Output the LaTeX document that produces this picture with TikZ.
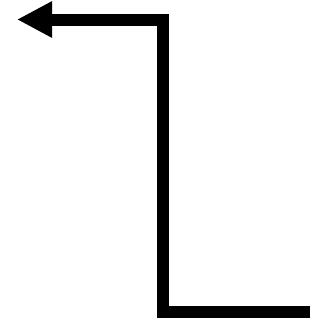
\documentclass[tikz,border=0pt]{standalone}
\usepackage{tikz}
\usetikzlibrary{arrows.meta, positioning, calc}

\begin{document}
\begin{tikzpicture}[x=1pt, y=-1pt,
  conn/.style={line width=12pt, -{Triangle[length=35pt, width=34pt]}}]
  \useasboundingbox (0,0) rectangle (320,322);
  \coordinate (src) at (310,312); \coordinate (bend) at (162.5,19.5);
  \coordinate (dst) at (17,19.5);
  \draw[conn] (src) -| (bend) -- (dst);
\end{tikzpicture}
\end{document}
